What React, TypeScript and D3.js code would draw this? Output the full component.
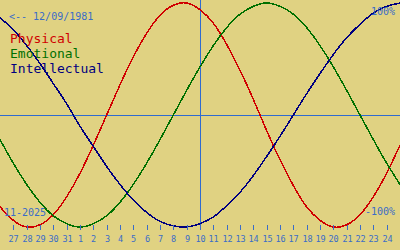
import React from "react";
import * as d3 from "d3";

// Day labels for each sample (Oct 26 .. Nov 25, 2025)
const days: number[] = [26, 27, 28, 29, 30, 31, 1, 2, 3, 4, 5, 6, 7, 8, 9, 10, 11, 12, 13, 14, 15, 16, 17, 18, 19, 20, 21, 22, 23, 24, 25];
// Tick labels shown on the axis (Oct 27 .. Nov 24)
const tickLabels: number[] = [27, 28, 29, 30, 31, 1, 2, 3, 4, 5, 6, 7, 8, 9, 10, 11, 12, 13, 14, 15, 16, 17, 18, 19, 20, 21, 22, 23, 24];
const todayIndex = 15; // Nov 10

// Values in percent
const physical: number[] = [-82, -94, -100, -98, -89, -73, -52, -27, 0, 27, 52, 73, 89, 98, 100, 94, 82, 63, 40, 14, -14, -40, -63, -82, -94, -100, -98, -89, -73, -52, -27];
const emotional: number[] = [-22, -43, -62, -78, -90, -97, -100, -97, -90, -78, -62, -43, -22, 0, 22, 43, 62, 78, 90, 97, 100, 97, 90, 78, 62, 43, 22, 0, -22, -43, -62];
const intellectual: number[] = [87, 76, 62, 46, 28, 10, -10, -28, -46, -62, -76, -87, -95, -99, -100, -97, -91, -81, -69, -54, -37, -19, 0, 19, 37, 54, 69, 81, 91, 97, 100];

const seriesNames = ["Physical", "Emotional", "Intellectual"];
const seriesColors = ["#d00000", "#007000", "#000080"];
const birthLabel = "<-- 12/09/1981";
const monthLabel = "11-2025";
const topLabel = "100%";
const bottomLabel = "-100%";

const W = 400;
const H = 250;
const BG = "#e0d282";
const AXIS_BLUE = "#3a6cc8";
const LINE_BLUE = "#2f6bd0";
const MONO = "'DejaVu Sans Mono', 'Liberation Mono', monospace";

export default function App() {
  const x = d3.scaleLinear().domain([0, days.length - 1]).range([0, W]);
  const y = d3.scaleLinear().domain([-100, 100]).range([227, 3]);

  const line = d3
    .line<number>()
    .x((_, i) => x(i))
    .y((d) => y(d))
    .curve(d3.curveNatural);

  const allSeries = [physical, emotional, intellectual];
  const mid = Math.round(y(0)) + 0.5;
  const vx = Math.round(x(todayIndex)) + 0.5;

  return (
    <svg
      width={W}
      height={H}
      style={{ position: "fixed", left: 0, top: 0, display: "block" }}
      fontFamily={MONO}
    >
      <rect x={0} y={0} width={W} height={H} fill={BG} />

      {/* midline and today line */}
      <line x1={0} x2={W} y1={mid} y2={mid} stroke={LINE_BLUE} strokeWidth={1} shapeRendering="crispEdges" />
      <line x1={vx} x2={vx} y1={0} y2={226} stroke={LINE_BLUE} strokeWidth={1} shapeRendering="crispEdges" />

      {/* curves */}
      {allSeries.map((s, k) => (
        <path
          key={k}
          d={line(s) || ""}
          fill="none"
          stroke={seriesColors[k]}
          strokeWidth={1.5}
          shapeRendering="crispEdges"
        />
      ))}

      {/* ticks */}
      {tickLabels.map((lab, j) => {
        const tx = Math.round(x(j + 1)) + 0.5;
        return (
          <g key={j}>
            <line x1={tx} x2={tx} y1={225} y2={230} stroke={AXIS_BLUE} strokeWidth={1} shapeRendering="crispEdges" />
            <text x={tx} y={242} textAnchor="middle" fontSize={8.5} fill={AXIS_BLUE}>
              {lab}
            </text>
          </g>
        );
      })}

      {/* labels */}
      <text x={9} y={20} fontSize={10} fill={AXIS_BLUE}>{birthLabel}</text>
      {seriesNames.map((n, k) => (
        <text key={n} x={10} y={43 + k * 15} fontSize={13} fill={seriesColors[k]}>
          {n}
        </text>
      ))}
      <text x={395} y={15} fontSize={10} textAnchor="end" fill={AXIS_BLUE}>{topLabel}</text>
      <text x={395} y={215} fontSize={10} textAnchor="end" fill={AXIS_BLUE}>{bottomLabel}</text>
      <text x={4} y={216} fontSize={10} fill={AXIS_BLUE}>{monthLabel}</text>
    </svg>
  );
}
